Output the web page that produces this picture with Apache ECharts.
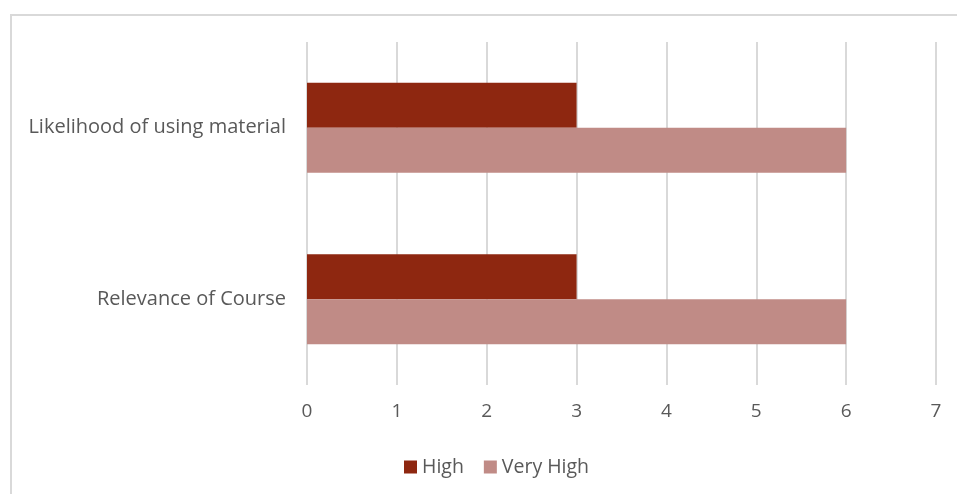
<!DOCTYPE html>
<html>
<head>
<meta charset="utf-8">
<script src="https://cdn.jsdelivr.net/npm/echarts@6/dist/echarts.min.js"></script>
<style>
  html, body { margin: 0; padding: 0; background: #fff; }
  #frame {
    position: absolute; left: 10px; top: 14px;
    width: 960px; height: 490px;
    border: 2px solid #d9d9d9; box-sizing: border-box;
  }
  #chart { position: absolute; left: 0; top: 0; width: 957px; height: 494px; }
</style>
</head>
<body>
<div id="frame"></div>
<div id="chart"></div>
<script>
// categories listed bottom to top
var categories = ['Relevance of Course', 'Likelihood of using material'];
var highValues = [3, 3];
var veryHighValues = [6, 6];
var xTicks = [0, 7, 1];

var myChart = echarts.init(document.getElementById('chart'));
var font = 'Open Sans';

var option = {
  animation: false,
  textStyle: { fontFamily: font },
  legend: {
    top: 452,
    left: 399,
    itemWidth: 13,
    itemHeight: 13,
    itemGap: 20,
    icon: 'rect',
    textStyle: { color: '#595959', fontSize: 19.5, fontFamily: font },
    data: ['High', 'Very High']
  },
  grid: {
    left: 307,
    right: 21,
    top: 42,
    bottom: 109
  },
  xAxis: {
    type: 'value',
    min: xTicks[0],
    max: xTicks[1],
    interval: xTicks[2],
    axisLine: { show: false },
    axisTick: { show: false },
    axisLabel: { color: '#595959', fontSize: 19, margin: 17 },
    splitLine: { lineStyle: { color: '#d9d9d9', width: 2 } }
  },
  yAxis: {
    type: 'category',
    data: categories,
    axisLine: { show: false },
    axisTick: { show: false },
    axisLabel: { color: '#595959', fontSize: 20, margin: 21 }
  },
  series: [
    {
      name: 'High',
      type: 'bar',
      barWidth: 45,
      barGap: '0%',
      itemStyle: { color: '#8e2710' },
      data: highValues
    },
    {
      name: 'Very High',
      type: 'bar',
      barWidth: 45,
      barGap: '0%',
      itemStyle: { color: '#c08b86' },
      data: veryHighValues
    }
  ]
};
myChart.setOption(option);
</script>
</body>
</html>
